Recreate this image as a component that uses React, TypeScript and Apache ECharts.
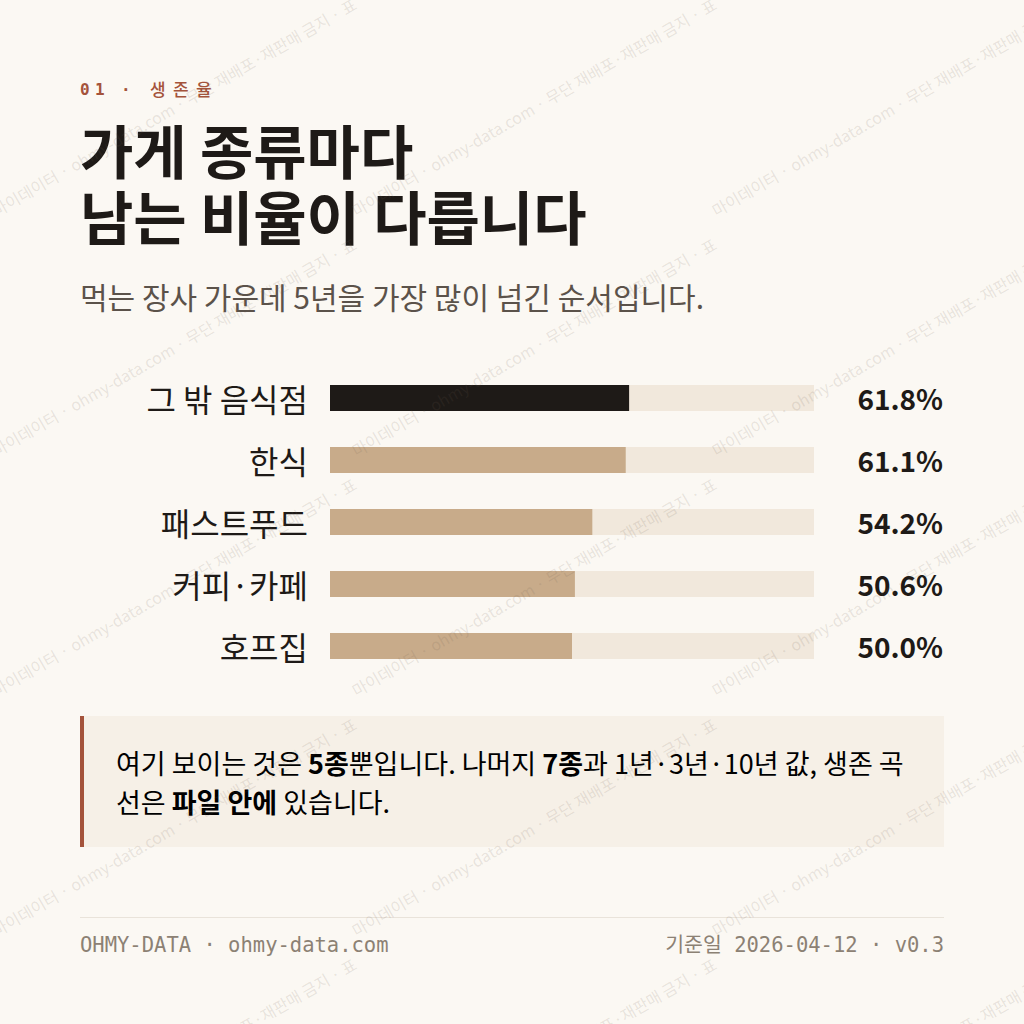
import React, { useEffect, useRef } from "react";
import * as echarts from "echarts";

const categories = ["그 밖 음식점", "한식", "패스트푸드", "커피·카페", "호프집"];
const survival5y = [61.8, 61.1, 54.2, 50.6, 50.0];
const trackMax = 100;

const eyebrowChars = ["0", "1", "·", "생", "존", "율"];
const titleLines = ["가게 종류마다", "남는 비율이 다릅니다"];
const subtitle = "먹는 장사 가운데 5년을 가장 많이 넘긴 순서입니다.";
const footerLeft = "OHMY-DATA · ohmy-data.com";
const footerRight = "기준일 2026-04-12 · v0.3";
const watermarkText = "마이데이터 · ohmy-data.com · 무단 재배포·재판매 금지 · 표";

const BG = "#fbf8f3";
const INK = "#1e1a17";
const TAN = "#c8ab8a";
const TRACK = "#f1e8dc";
const RUST = "#a4533b";
const KR = "'Noto Sans CJK KR', 'Noto Sans', sans-serif";
const MONO = "'DejaVu Sans Mono', 'Liberation Mono', 'Noto Sans CJK KR', monospace";

export default function App() {
  const ref = useRef<HTMLDivElement>(null);
  useEffect(() => {
    if (!ref.current) return;
    const chart = echarts.init(ref.current, undefined, { renderer: "svg" });

    const watermarks: any[] = [];
    for (let r = -1; r < 5; r++) {
      for (let c = 0; c < 3; c++) {
        watermarks.push({
          type: "text",
          x: c * 360 - 3,
          y: 218 + r * 240,
          rotation: Math.PI / 6,
          z: 100,
          silent: true,
          style: {
            text: watermarkText,
            font: `16px ${KR}`,
            fill: "rgba(110,95,80,0.14)",
            verticalAlign: "bottom",
          },
        });
      }
    }

    const eyebrowX = [80, 95, 121, 150, 173, 196];
    const eyebrow = eyebrowChars.map((ch, i) => ({
      type: "text",
      x: eyebrowX[i],
      y: i < 3 ? 81 : 80,
      style: {
        text: ch,
        font: i < 3 ? `bold 16px ${MONO}` : `500 17px ${KR}`,
        fill: RUST,
      },
    }));

    const option: any = {
      animation: false,
      backgroundColor: BG,
      grid: { left: 330, right: 210, top: 367, height: 310, containLabel: false },
      xAxis: { type: "value", min: 0, max: trackMax, show: false },
      yAxis: [
        {
          type: "category",
          data: categories,
          inverse: true,
          axisLine: { show: false },
          axisTick: { show: false },
          splitLine: { show: false },
          axisLabel: { fontSize: 32, color: INK, margin: 22, fontFamily: KR },
        },
        {
          type: "category",
          data: survival5y.map((v) => v.toFixed(1) + "%"),
          inverse: true,
          position: "right",
          axisLine: { show: false },
          axisTick: { show: false },
          splitLine: { show: false },
          axisLabel: {
            fontSize: 28,
            fontWeight: "bold",
            color: INK,
            margin: 129,
            align: "right",
            fontFamily: KR,
          },
        },
      ],
      series: [
        {
          type: "bar",
          yAxisIndex: 0,
          data: survival5y.map(() => trackMax),
          barWidth: 26,
          itemStyle: { color: TRACK },
          silent: true,
          z: 1,
        },
        {
          type: "bar",
          yAxisIndex: 0,
          data: survival5y.map((v, i) => ({ value: v, itemStyle: { color: i === 0 ? INK : TAN } })),
          barWidth: 26,
          barGap: "-100%",
          z: 2,
        },
      ],
      graphic: [
        ...eyebrow,
        {
          type: "text",
          left: 80,
          top: 120,
          style: { text: titleLines[0], font: `bold 58px ${KR}`, fill: INK },
        },
        {
          type: "text",
          left: 80,
          top: 186,
          style: { text: titleLines[1], font: `bold 58px ${KR}`, fill: INK },
        },
        {
          type: "text",
          left: 80,
          top: 281,
          style: { text: subtitle, font: `30px ${KR}`, fill: "#5b524a" },
        },
        {
          type: "rect",
          shape: { x: 80, y: 716, width: 864, height: 131 },
          style: { fill: "#f6f0e7" },
        },
        {
          type: "rect",
          shape: { x: 80, y: 716, width: 4, height: 131 },
          style: { fill: RUST },
        },
        {
          type: "text",
          x: 116,
          y: 743,
          style: {
            text:
              "{n|여기 보이는 것은 }{b|5종}{n|뿐입니다. 나머지 }{b|7종}{n|과 1년·3년·10년 값, 생존 곡}\n{n|선은 }{b|파일 안에}{n| 있습니다.}",
            rich: {
              n: { fontSize: 27, fontFamily: KR, color: "#5b524a", lineHeight: 39 },
              b: { fontSize: 27, fontFamily: KR, color: INK, fontWeight: "bold", lineHeight: 39 },
            },
          } as any,
        },
        {
          type: "rect",
          shape: { x: 80, y: 917, width: 864, height: 1 },
          style: { fill: "#e9e3da" },
        },
        {
          type: "text",
          left: 80,
          top: 935,
          style: { text: footerLeft, font: `20.5px ${MONO}`, fill: "#8c8174" },
        },
        {
          type: "text",
          right: 80,
          top: 935,
          style: { text: footerRight, font: `20.5px ${MONO}`, fill: "#8c8174" },
        },
        ...watermarks,
      ],
    };
    chart.setOption(option);
    return () => chart.dispose();
  }, []);
  return (
    <div
      ref={ref}
      style={{ position: "fixed", left: 0, top: 0, width: 1024, height: 1024 }}
    />
  );
}
